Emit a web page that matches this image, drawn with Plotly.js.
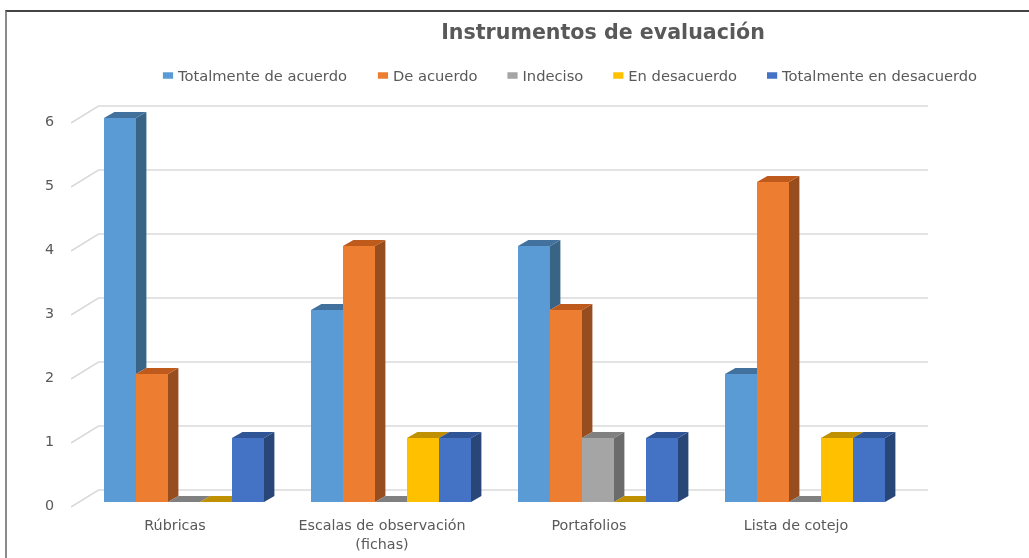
<!DOCTYPE html>
<html>
<head>
<meta charset="utf-8">
<script src="https://cdn.plot.ly/plotly-3.0.1.min.js"></script>
<style>
html,body{margin:0;padding:0;background:#fff;width:1029px;height:558px;overflow:hidden}
#chart{position:absolute;left:0;top:0;width:1029px;height:558px;filter:blur(0.35px)}
#frame{position:absolute;left:5px;top:10px;width:1024px;height:548px;border-top:2px solid #444;border-left:2px solid #8a8a8a;box-sizing:border-box;pointer-events:none}
.legend .legendpoints path{transform:translate(30px,0) scale(.85,.55)}
</style>
</head>
<body>
<div id="chart"></div>
<div id="frame"></div>
<script>
var categories = ["Rúbricas", "Escalas de observación<br>(fichas)", "Portafolios", "Lista de cotejo"];
var seriesNames = ["Totalmente de acuerdo", "De acuerdo", "Indeciso", "En desacuerdo", "Totalmente en desacuerdo"];
var totalmenteDeAcuerdo = [6, 3, 4, 2];
var deAcuerdo = [2, 4, 3, 5];
var indeciso = [0, 0, 1, 0];
var enDesacuerdo = [0, 1, 0, 1];
var totalmenteEnDesacuerdo = [1, 1, 1, 1];
var yTicks = [0, 1, 2, 3, 4, 5, 6];

var seriesValues = [totalmenteDeAcuerdo, deAcuerdo, indeciso, enDesacuerdo, totalmenteEnDesacuerdo];
var frontColors = ["#5B9BD5", "#ED7D31", "#A5A5A5", "#FFC000", "#4472C4"];
var topColors = ["#41719C", "#BE5A1C", "#808080", "#BF9000", "#2F5597"];
var sideColors = ["#3A6485", "#984D1E", "#6B6B6B", "#A07C00", "#294679"];

// 3D depth expressed in axis units
var pxX = 207, pxY = 64;
var depthX = 10.4 / pxX, depthY = 6 / pxY;
var bargap = 47 / 207;
var barW = (1 - bargap) / 5;
var catIdx = categories.map(function (_, i) { return i; });

var traces = [];
seriesValues.forEach(function (vals, s) {
  traces.push({
    type: "bar", name: seriesNames[s], x: catIdx, y: vals,
    marker: { color: frontColors[s], line: { width: 0 } }, hoverinfo: "y+name"
  });
});

function poly(xs, ys, color) {
  traces.push({
    type: "scatter", mode: "lines", x: xs.concat(xs[0]), y: ys.concat(ys[0]),
    fill: "toself", fillcolor: color, line: { width: 0, color: color },
    showlegend: false, hoverinfo: "skip"
  });
}

catIdx.forEach(function (c) {
  seriesValues.forEach(function (vals, s) {
    var v = vals[c];
    var next = s < 4 ? seriesValues[s + 1][c] : 0;
    var x0 = c - (1 - bargap) / 2 + s * barW;
    var x1 = x0 + barW;
    if (v > next) {
      poly([x1, x1, x1 + depthX, x1 + depthX],
           [next, v, v + depthY, next + depthY], sideColors[s]);
    }
    if (next > v) {
      poly([x0, x1, x1, x0 + depthX],
           [v, v, v + depthY, v + depthY], topColors[s]);
    } else {
      poly([x0, x1, x1 + depthX, x0 + depthX],
           [v, v, v + depthY, v + depthY], topColors[s]);
    }
  });
});

var xRange = [(71 - 184) / pxX, (928 - 184) / pxX];
var wallBack = (98.5 - 184) / pxX;
var shapes = yTicks.map(function (v) {
  var yb = v + 12 / pxY, yf = v - 5 / pxY;
  return {
    type: "path", xref: "x", yref: "y", layer: "below",
    path: "M" + xRange[0] + "," + yf + " L" + wallBack + "," + yb + " L" + xRange[1] + "," + yb,
    line: { color: "#DADADA", width: 1.5 }
  };
});

var font = "'DejaVu Sans', sans-serif";
var layout = {
  width: 1029, height: 558,
  margin: { l: 71, r: 101, t: 100, b: 48, autoexpand: false },
  paper_bgcolor: "rgba(0,0,0,0)", plot_bgcolor: "rgba(0,0,0,0)",
  barmode: "group", bargap: bargap, bargroupgap: 0,
  font: { family: font, color: "#595959", size: 13 },
  title: {
    text: "<b>Instrumentos de evaluación</b>",
    font: { family: font, size: 20.6, color: "#595959" },
    x: 603 / 1029, xanchor: "center", y: 1 - 32 / 558, yanchor: "middle"
  },
  showlegend: true,
  legend: {
    orientation: "h", x: 138 / 1029, xref: "container", xanchor: "left",
    y: 1 - 76 / 558, yref: "container", yanchor: "middle",
    font: { family: font, size: 14.7, color: "#595959" },
    bgcolor: "rgba(0,0,0,0)", traceorder: "normal"
  },
  xaxis: {
    range: xRange, type: "linear", tickvals: catIdx, ticktext: categories,
    showgrid: false, zeroline: false, showline: false, ticks: "",
    ticklabelshift: -9, ticklabelstandoff: 5, fixedrange: true,
    tickfont: { family: font, size: 14.3, color: "#595959" }
  },
  yaxis: {
    range: [-8 / pxY, 402 / pxY], tickvals: yTicks, ticktext: yTicks.map(String),
    showgrid: false, zeroline: false, showline: false, ticks: "",
    ticklabelshift: 3, ticklabelstandoff: 16, fixedrange: true,
    tickfont: { family: font, size: 14.3, color: "#595959" }
  },
  shapes: shapes
};
Plotly.newPlot("chart", traces, layout, { displayModeBar: false, responsive: false });
</script>
</body>
</html>
